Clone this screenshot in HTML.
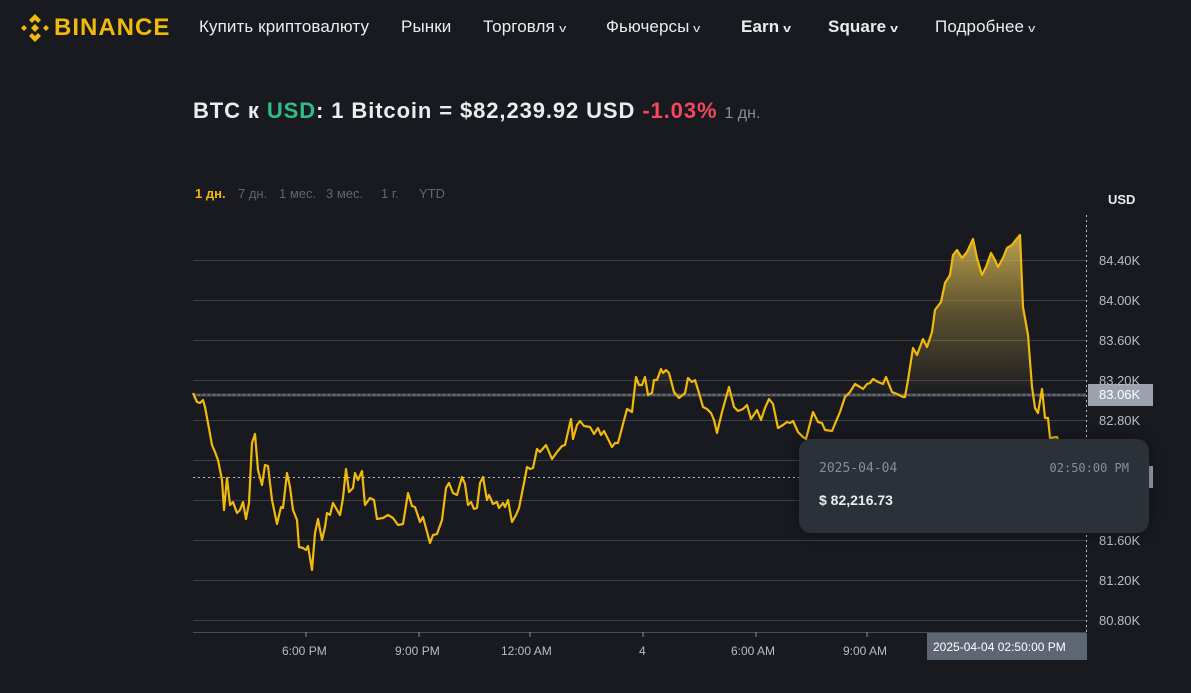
<!DOCTYPE html>
<html><head><meta charset="utf-8">
<style>
body{margin:0;width:1191px;height:693px;background:#181a20;overflow:hidden;font-family:"Liberation Sans","Noto Sans CJK SC",sans-serif;position:relative}
.a{position:absolute;white-space:nowrap}
.nav{top:17px;font-size:17px;color:#eaecef;letter-spacing:0.1px}
.chev{font-size:11px;margin-left:5px;display:inline-block;transform:scaleX(1.3)}
.tf{top:186px;font-size:13px;color:#5e6673}
.yl{left:1099px;font-size:13px;color:#b7bdc6}
.xl{top:644px;font-size:12px;color:#b7bdc6}
</style></head><body>
<svg class="a" style="left:20px;top:13px" width="30" height="30" viewBox="0 0 30 30"><g fill="#f0b90b"><polygon points="15,1 21,7 18,10 15,7 12,10 9,7"/><polygon points="15,29 21,23 18,20 15,23 12,20 9,23"/><polygon points="1,15 4,12 7,15 4,18"/><polygon points="29,15 26,12 23,15 26,18"/><polygon points="15,11 19,15 15,19 11,15"/></g></svg>
<div class="a" style="left:54px;top:14px;font-size:24px;font-weight:bold;color:#f0b90b;letter-spacing:1px">BINANCE</div>
<div class="a nav" style="left:199px">Купить криптовалюту</div>
<div class="a nav" style="left:401px">Рынки</div>
<div class="a nav" style="left:483px">Торговля<span class="chev">v</span></div>
<div class="a nav" style="left:606px">Фьючерсы<span class="chev">v</span></div>
<div class="a nav" style="left:741px;font-weight:bold">Earn<span class="chev">v</span></div>
<div class="a nav" style="left:828px;font-weight:bold">Square<span class="chev">v</span></div>
<div class="a nav" style="left:935px">Подробнее<span class="chev">v</span></div>
<div class="a" style="left:193px;top:98px;font-size:22px;font-weight:bold;color:#eaecef;letter-spacing:0.9px">BTC к <span style="color:#2ebd85">USD</span>: 1 Bitcoin = $82,239.92 USD <span style="color:#f6465d">-1.03%</span> <span style="font-size:16px;font-weight:normal;color:#848e9c;letter-spacing:0">1 дн.</span></div>
<div class="a tf" style="left:195px;color:#f0b90b;font-weight:bold">1 дн.</div>
<div class="a tf" style="left:238px">7 дн.</div>
<div class="a tf" style="left:279px">1 мес.</div>
<div class="a tf" style="left:326px">3 мес.</div>
<div class="a tf" style="left:381px">1 г.</div>
<div class="a tf" style="left:419px">YTD</div>
<div class="a" style="left:1108px;top:192px;font-size:13px;font-weight:bold;color:#eaecef">USD</div>
<svg class="a" style="left:0;top:0" width="1191" height="693">
<defs>
<linearGradient id="g" x1="0" y1="235" x2="0" y2="394" gradientUnits="userSpaceOnUse"><stop offset="0" stop-color="#e6c65a" stop-opacity="0.8"/><stop offset="0.5" stop-color="#d4b24a" stop-opacity="0.35"/><stop offset="1" stop-color="#d4b24a" stop-opacity="0.02"/></linearGradient>
<clipPath id="c"><rect x="0" y="0" width="1191" height="394"/></clipPath>
</defs>
<g stroke="#3a3e45" stroke-width="1">
<line x1="193" x2="1086" y1="260.5" y2="260.5"/><line x1="193" x2="1086" y1="300.5" y2="300.5"/><line x1="193" x2="1086" y1="340.5" y2="340.5"/><line x1="193" x2="1086" y1="380.5" y2="380.5"/><line x1="193" x2="1086" y1="420.5" y2="420.5"/><line x1="193" x2="1086" y1="460.5" y2="460.5"/><line x1="193" x2="1086" y1="500.5" y2="500.5"/><line x1="193" x2="1086" y1="540.5" y2="540.5"/><line x1="193" x2="1086" y1="580.5" y2="580.5"/><line x1="193" x2="1086" y1="620.5" y2="620.5"/>
</g>
<line x1="193" x2="1086" y1="395" y2="395" stroke="#4a4e55" stroke-width="3"/>
<line x1="193" x2="1086" y1="395" y2="395" stroke="#848e9c" stroke-width="1" stroke-dasharray="2,3"/>
<line x1="193" x2="1086" y1="632.5" y2="632.5" stroke="#474d57"/>
<g stroke="#848e9c"><line x1="306" x2="306" y1="632" y2="637"/><line x1="419" x2="419" y1="632" y2="637"/><line x1="530" x2="530" y1="632" y2="637"/><line x1="643" x2="643" y1="632" y2="637"/><line x1="756" x2="756" y1="632" y2="637"/><line x1="867" x2="867" y1="632" y2="637"/></g>
<line x1="1086.5" x2="1086.5" y1="215" y2="632" stroke="#b7bdc6" stroke-dasharray="2,3"/>
<line x1="193" x2="1086" y1="477.5" y2="477.5" stroke="#b7bdc6" stroke-dasharray="2,3"/>
<polygon clip-path="url(#c)" fill="url(#g)" points="193,394 193,393 197,402 200,403 203,400 205,407 600,420 627,409 632,412 636,377 639,385 642,385 645,377 648,395 652,393 654,380 657,380 661,369 663,373 666,370 669,373 674,392 679,398 685,393 688,378 692,382 695,380 699,393 703,407 840,412 845,397 850,392 855,384 860,387 863,389 867,384 870,383 873,379 878,382 883,384 886,377 892,392 897,394 903,397 905,397 908,380 913,348 917,355 920,347 923,339 927,347 932,332 935,310 941,302 945,283 950,275 953,255 957,250 962,258 967,252 973,239 977,258 982,275 986,267 991,253 995,260 998,267 1003,258 1007,248 1012,245 1015,241 1020,235 1023,307 1028,335 1032,387 1035,408 1035,420"/>
<polyline fill="none" stroke="#f0b90b" stroke-width="2.2" stroke-linejoin="round" points="193,393 197,402 200,403 203,400 205,407 208,423 212,445 215,452 218,460 222,480 224,510 227,478 230,505 233,502 237,513 240,510 243,502 246,519 249,503 252,443 255,434 258,470 262,485 265,465 268,466 272,500 277,524 281,507 283,508 287,473 290,487 293,510 297,520 299,547 303,548 306,550 308,546 312,570 315,533 318,519 322,540 325,527 327,513 330,515 333,503 337,510 340,515 343,498 346,469 349,492 353,488 355,473 358,480 362,471 365,505 370,498 374,500 377,519 383,518 388,515 393,518 398,525 403,524 405,512 408,493 412,506 415,507 420,522 423,517 430,543 433,535 437,534 442,520 446,488 449,483 453,493 457,495 462,477 465,484 468,505 471,502 474,509 477,508 480,483 483,477 487,500 489,495 493,504 497,502 499,508 503,503 505,507 508,500 512,522 516,515 519,508 523,488 525,478 527,467 530,469 533,468 537,449 540,452 546,445 552,459 557,452 562,446 565,445 571,419 573,439 577,425 580,421 584,426 590,427 594,434 598,428 601,435 604,431 612,447 615,443 618,443 627,409 632,412 636,377 639,385 642,385 645,377 648,395 652,393 654,380 657,380 661,369 663,373 666,370 669,373 674,392 679,398 685,393 688,378 692,382 695,380 699,393 703,407 707,409 711,413 714,420 717,433 722,412 729,387 734,407 738,411 743,409 747,405 751,419 755,413 757,410 761,420 765,408 769,399 773,404 778,428 783,425 787,422 790,423 793,421 798,432 803,437 806,439 813,412 818,422 822,423 825,430 832,431 840,412 845,397 850,392 855,384 860,387 863,389 867,384 870,383 873,379 878,382 883,384 886,377 892,392 897,394 903,397 905,397 908,380 913,348 917,355 920,347 923,339 927,347 932,332 935,310 941,302 945,283 950,275 953,255 957,250 962,258 967,252 973,239 977,258 982,275 986,267 991,253 995,260 998,267 1003,258 1007,248 1012,245 1015,241 1020,235 1023,307 1028,335 1032,387 1035,408 1038,413 1042,389 1045,418 1048,418 1050,438 1057,437 1062,450 1070,462 1078,470 1086,478"/>
<rect x="1088" y="384" width="65" height="22" fill="#9ca3ae"/>
<rect x="1147" y="466" width="6" height="22" fill="#9ca3ae"/>
<rect x="927" y="633" width="160" height="27" fill="#5e6673"/>
</svg>
<div class="a yl" style="top:253px">84.40K</div>
<div class="a yl" style="top:293px">84.00K</div>
<div class="a yl" style="top:333px">83.60K</div>
<div class="a yl" style="top:373px">83.20K</div>
<div class="a yl" style="top:387px;color:#fff">83.06K</div>
<div class="a yl" style="top:413px">82.80K</div>
<div class="a yl" style="top:533px">81.60K</div>
<div class="a yl" style="top:573px">81.20K</div>
<div class="a yl" style="top:613px">80.80K</div>
<div class="a xl" style="left:282px">6:00 PM</div>
<div class="a xl" style="left:395px">9:00 PM</div>
<div class="a xl" style="left:501px">12:00 AM</div>
<div class="a xl" style="left:639px">4</div>
<div class="a xl" style="left:731px">6:00 AM</div>
<div class="a xl" style="left:843px">9:00 AM</div>
<div class="a" style="left:933px;top:640px;font-size:12px;color:#fff">2025-04-04 02:50:00 PM</div>
<div class="a" style="left:799px;top:439px;width:350px;height:94px;background:#2b3139;border-radius:12px;box-shadow:0 0 12px rgba(0,0,0,0.4)"></div>
<div class="a" style="left:819px;top:461px;font-size:13px;color:#848e9c;font-family:'DejaVu Sans Mono','Liberation Mono',monospace">2025-04-04</div>
<div class="a" style="right:62px;top:461px;font-size:12px;color:#848e9c;font-family:'DejaVu Sans Mono','Liberation Mono',monospace">02:50:00 PM</div>
<div class="a" style="left:819px;top:492px;font-size:14px;font-weight:bold;color:#eaecef">$ 82,216.73</div>
</body></html>
